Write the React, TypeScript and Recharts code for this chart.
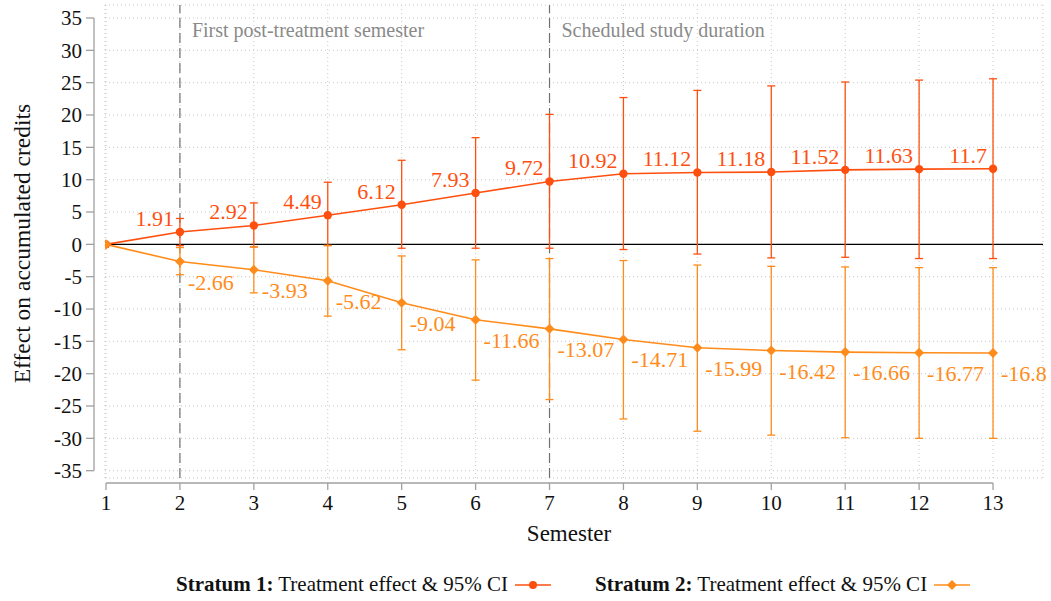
import {
  ComposedChart,
  Line,
  XAxis,
  YAxis,
  CartesianGrid,
  ReferenceLine,
  ErrorBar,
  LabelList,
} from 'recharts';

const semesters = [1, 2, 3, 4, 5, 6, 7, 8, 9, 10, 11, 12, 13];

const effect1 = [0, 1.91, 2.92, 4.49, 6.12, 7.93, 9.72, 10.92, 11.12, 11.18, 11.52, 11.63, 11.7];
const ciLow1 = [null, -0.2, -0.4, -0.2, -0.6, -0.6, -0.6, -0.8, -1.5, -2.1, -2.0, -2.2, -2.2];
const ciHigh1 = [null, 4.0, 6.4, 9.6, 13.0, 16.5, 20.1, 22.7, 23.8, 24.5, 25.1, 25.4, 25.6];

const effect2 = [0, -2.66, -3.93, -5.62, -9.04, -11.66, -13.07, -14.71, -15.99, -16.42, -16.66, -16.77, -16.8];
const ciLow2 = [null, -4.7, -7.5, -11.1, -16.3, -21.0, -24.0, -27.0, -28.9, -29.5, -29.9, -30.0, -30.0];
const ciHigh2 = [null, -0.5, -0.4, -0.15, -1.8, -2.4, -2.2, -2.5, -3.2, -3.4, -3.5, -3.6, -3.6];

const yTicks = [-35, -30, -25, -20, -15, -10, -5, 0, 5, 10, 15, 20, 25, 30, 35];

const COLOR1 = '#ff4f0f';
const COLOR2 = '#ff8c1a';
const AXIS = '#a0a0a0';
const FONT = '"Liberation Serif", "Times New Roman", serif';

const data = semesters.map((s, i) => ({
  semester: s,
  effect1: effect1[i],
  effect2: effect2[i],
  err1: ciLow1[i] == null ? null : [effect1[i] - ciLow1[i], ciHigh1[i] - effect1[i]],
  err2: ciLow2[i] == null ? null : [effect2[i] - ciLow2[i], ciHigh2[i] - effect2[i]],
}));

function XTick(props: any) {
  const { x, y, payload } = props;
  return (
    <g>
      <line x1={x} x2={x} y1={y + 5} y2={y + 12} stroke={AXIS} strokeWidth={1.3} />
      <text x={x} y={y + 32} textAnchor="middle" fill="#111" fontSize={21} fontFamily={FONT}>
        {payload.value}
      </text>
    </g>
  );
}

function YTick(props: any) {
  const { x, y, payload } = props;
  return (
    <g>
      <line x1={x - 19} x2={x - 11} y1={y} y2={y} stroke={AXIS} strokeWidth={1.3} />
      <text x={x - 23} y={y} dy="0.35em" textAnchor="end" fill="#111" fontSize={21} fontFamily={FONT}>
        {payload.value}
      </text>
    </g>
  );
}

function CircleDot(props: any) {
  const { cx, cy, index } = props;
  return <circle key={`c${index}`} cx={cx} cy={cy} r={4.2} fill={COLOR1} />;
}

function DiamondDot(props: any) {
  const { cx, cy, index } = props;
  const r = 5;
  return (
    <polygon
      key={`d${index}`}
      points={`${cx},${cy - r} ${cx + r},${cy} ${cx},${cy + r} ${cx - r},${cy}`}
      fill={COLOR2}
    />
  );
}

function Label1(props: any) {
  const { x, y, value, index } = props;
  if (index === 0) return null;
  return (
    <text x={x - 6} y={y - 6} textAnchor="end" fill={COLOR1} fontSize={22} fontFamily={FONT}>
      {String(value)}
    </text>
  );
}

function Label2(props: any) {
  const { x, y, value, index } = props;
  if (index === 0) return null;
  return (
    <text x={x + 8} y={y + 28} textAnchor="start" fill={COLOR2} fontSize={22} fontFamily={FONT}>
      {String(value)}
    </text>
  );
}

function LegendItem({ title, color, diamond }: { title: string; color: string; diamond?: boolean }) {
  return (
    <div style={{ display: 'flex', alignItems: 'center' }}>
      <span>
        <b>{title}</b> Treatment effect &amp; 95% CI
      </span>
      <svg width={36} height={12} style={{ marginLeft: 7 }}>
        <line x1={0} x2={36} y1={6} y2={6} stroke={color} strokeWidth={1.6} />
        {diamond ? (
          <polygon points="18,1 23,6 18,11 13,6" fill={color} />
        ) : (
          <circle cx={18} cy={6} r={4} fill={color} />
        )}
      </svg>
    </div>
  );
}

export default function App() {
  return (
    <div style={{ position: 'absolute', left: 0, top: 0, width: 1051, height: 601, background: '#fff', fontFamily: FONT }}>
      <ComposedChart width={1051} height={601} data={data} margin={{ top: 5, right: 8, left: 0, bottom: 0 }}>
        <CartesianGrid stroke="#c8c8c8" strokeDasharray="1 3" />
        <XAxis
          dataKey="semester"
          type="number"
          domain={[0.9865, 13.676]}
          allowDataOverflow
          ticks={semesters}
          height={123}
          axisLine={false}
          tickLine={false}
          tickSize={0}
          tickMargin={0}
          tick={<XTick />}
          label={{
            content: (p: any) => (
              <text
                x={p.viewBox.x + p.viewBox.width / 2 - 5}
                y={p.viewBox.y + 63}
                textAnchor="middle"
                fill="#111"
                fontSize={23}
                fontFamily={FONT}
              >
                Semester
              </text>
            ),
          }}
        />
        <YAxis
          type="number"
          domain={[-36.13, 37.01]}
          allowDataOverflow
          ticks={yTicks}
          width={105}
          axisLine={false}
          tickLine={false}
          tickSize={0}
          tickMargin={0}
          tick={<YTick />}
          label={{
            content: (p: any) => (
              <text
                transform={`translate(22, ${p.viewBox.y + p.viewBox.height / 2 + 2}) rotate(-90)`}
                textAnchor="middle"
                dominantBaseline="central"
                fill="#111"
                fontSize={23.5}
                fontFamily={FONT}
              >
                Effect on accumulated credits
              </text>
            ),
          }}
        />
        {/* axis lines drawn detached from the plot region */}
        <ReferenceLine
          segment={[{ x: 0.8377, y: 35 }, { x: 0.8377, y: -35 }]}
          stroke={AXIS}
          strokeWidth={1.3}
          ifOverflow="visible"
        />
        <ReferenceLine
          segment={[{ x: 1, y: -36.9 }, { x: 13, y: -36.9 }]}
          stroke={AXIS}
          strokeWidth={1.3}
          ifOverflow="visible"
        />
        <ReferenceLine y={0} stroke="#000" strokeWidth={1.2} />
        <ReferenceLine
          x={2}
          stroke="#707070"
          strokeWidth={1.2}
          strokeDasharray="10 5"
          label={{
            content: (p: any) => (
              <text x={p.viewBox.x + 12} y={p.viewBox.y + 32} fill="#8a8a8a" fontSize={20} fontFamily={FONT}>
                First post-treatment semester
              </text>
            ),
          }}
        />
        <ReferenceLine
          x={7}
          stroke="#707070"
          strokeWidth={1.2}
          strokeDasharray="10 5"
          label={{
            content: (p: any) => (
              <text x={p.viewBox.x + 12} y={p.viewBox.y + 32} fill="#8a8a8a" fontSize={20} fontFamily={FONT}>
                Scheduled study duration
              </text>
            ),
          }}
        />
        <Line
          type="linear"
          dataKey="effect1"
          stroke={COLOR1}
          strokeWidth={1.6}
          dot={CircleDot}
          activeDot={false}
          isAnimationActive={false}
        >
          <ErrorBar dataKey="err1" direction="y" width={4} stroke={COLOR1} strokeWidth={1.3} isAnimationActive={false} />
          <LabelList dataKey="effect1" content={Label1} />
        </Line>
        <Line
          type="linear"
          dataKey="effect2"
          stroke={COLOR2}
          strokeWidth={1.6}
          dot={DiamondDot}
          activeDot={false}
          isAnimationActive={false}
        >
          <ErrorBar dataKey="err2" direction="y" width={4} stroke={COLOR2} strokeWidth={1.3} isAnimationActive={false} />
          <LabelList dataKey="effect2" content={Label2} />
        </Line>
      </ComposedChart>
      <div
        style={{
          position: 'absolute',
          left: 176,
          top: 572,
          display: 'flex',
          gap: 44,
          fontSize: 21,
          color: '#111',
          whiteSpace: 'nowrap',
        }}
      >
        <LegendItem title="Stratum 1:" color={COLOR1} />
        <LegendItem title="Stratum 2:" color={COLOR2} diamond />
      </div>
    </div>
  );
}
